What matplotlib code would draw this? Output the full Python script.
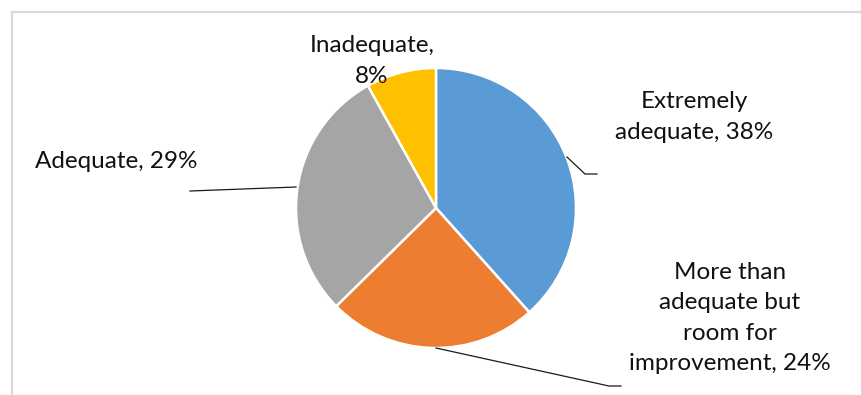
import matplotlib.pyplot as plt

# chart values
labels = ['Extremely\nadequate, 38%', 'More than\nadequate but\nroom for\nimprovement, 24%',
          'Adequate, 29%', 'Inadequate,\n8%']
values = [38, 24, 29, 8]
colors = ['#5B9BD5', '#ED7D31', '#A5A5A5', '#FFC000']

W, H = 861, 395
fig = plt.figure(figsize=(W / 100, H / 100), dpi=100)
ax = fig.add_axes([0, 0, 1, 1])

def py(y):
    # pixel y (top down) -> data y
    return H - y

cx, cy, r = 436, 208, 140
wedges, _ = ax.pie(values, colors=colors, startangle=90, counterclock=False,
                   center=(cx, py(cy)), radius=r,
                   wedgeprops=dict(edgecolor='white', linewidth=1.8))

ax.set_xlim(0, W)
ax.set_ylim(0, H)
ax.set_aspect('auto')
ax.axis('off')

# outer chart border (only top and left visible)
ax.plot([12, 12, W + 5], [py(H + 5), py(12), py(12)], color='#D9D9D9', lw=1.6,
        solid_joinstyle='miter')

# leader lines
lc = '#1a1a1a'
ax.plot([567, 585, 597], [py(157), py(174), py(174)], color=lc, lw=0.9)
ax.plot([436, 609, 621], [py(348), py(386), py(386)], color=lc, lw=0.9)
ax.plot([296, 190], [py(187), py(191)], color=lc, lw=0.9)

fs = 17.5
font = ['Lato', 'DejaVu Sans']
lab_pos = [(694, 117), (730, 318), (116, 161), (372, 61)]
for lab, (x, y) in zip(labels, lab_pos):
    ax.text(x, py(y), lab, ha='center', va='center', fontsize=fs, family=font,
            linespacing=1.55, color='#111111')

fig.savefig('out.png', dpi=100)
